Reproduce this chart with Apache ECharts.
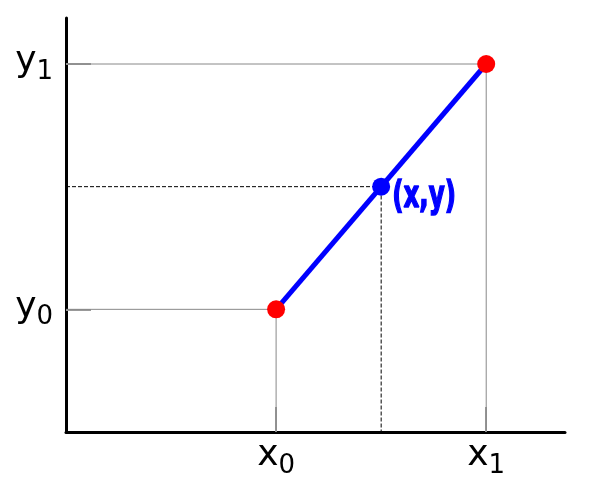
<!DOCTYPE html>
<html>
<head>
<meta charset="utf-8">
<script src="https://cdn.jsdelivr.net/npm/echarts@6/dist/echarts.min.js"></script>
<style>
  html, body { margin: 0; padding: 0; background: #fff; }
  #main { width: 600px; height: 480px; }
</style>
</head>
<body>
<div id="main"></div>
<script>
// known points and the interpolated one
var xTicks = [4, 8];
var xTickSubs = ['0', '1'];
var yTicks = [1, 3];
var yTickSubs = ['0', '1'];
var knownPoints = [[4, 1], [8, 3]];
var interpPoint = [6, 2];
var interpLabel = '(x,y)';

var chart = echarts.init(document.getElementById('main'));

function guide(p) {
  // from the y axis across to the point, then down to the x axis
  return [[0, p[1]], [p[0], p[1]], [p[0], 0]];
}

var richSub = {
  m: { fontSize: 36, fontFamily: 'DejaVu Sans', color: '#000', lineHeight: 40, verticalAlign: 'top' },
  s: { fontSize: 26, fontFamily: 'DejaVu Sans', color: '#000', lineHeight: 30, verticalAlign: 'top', padding: [15, 0, 0, 0] }
};

chart.setOption({
  animation: false,
  grid: { left: 66, right: 35, top: 18, bottom: 48 },
  xAxis: {
    type: 'value', min: 0, max: 9.5,
    splitLine: { show: false },
    axisLine: { lineStyle: { color: '#000', width: 3 } },
    axisTick: { show: true, inside: true, length: 25, customValues: xTicks, lineStyle: { color: '#999', width: 2 } },
    axisLabel: {
      customValues: xTicks, margin: 6,
      formatter: function (v) { return '{m|x}{s|' + xTickSubs[xTicks.indexOf(v)] + '}'; },
      rich: richSub
    }
  },
  yAxis: {
    type: 'value', min: 0, max: 3.375,
    splitLine: { show: false },
    axisLine: { show: true, lineStyle: { color: '#000', width: 3 } },
    axisTick: { show: true, inside: true, length: 25, customValues: yTicks, lineStyle: { color: '#999', width: 2 } },
    axisLabel: {
      customValues: yTicks, margin: 13,
      formatter: function (v) { return '{m|y}{s|' + yTickSubs[yTicks.indexOf(v)] + '}'; },
      rich: richSub
    }
  },
  series: [
    { type: 'line', data: guide(knownPoints[0]), symbol: 'none', lineStyle: { color: '#888', width: 1 }, z: 1 },
    { type: 'line', data: guide(knownPoints[1]), symbol: 'none', lineStyle: { color: '#888', width: 1 }, z: 1 },
    { type: 'line', data: guide(interpPoint), symbol: 'none', lineStyle: { color: '#000', width: 1, type: [4, 2] }, z: 1 },
    { type: 'line', data: knownPoints, symbol: 'none', lineStyle: { color: '#0000ff', width: 5 }, z: 2 },
    { type: 'scatter', data: knownPoints, symbolSize: 18, itemStyle: { color: '#ff0000', opacity: 1 }, z: 3 },
    { type: 'scatter', data: [interpPoint], symbolSize: 18, itemStyle: { color: '#0000ff', opacity: 1 }, z: 3 }
  ]
});

// the (x,y) label is squeezed sideways in the original, so draw it as a scaled text
var px = chart.convertToPixel({ gridIndex: 0 }, interpPoint);
chart.setOption({
  graphic: [{
    type: 'text', x: px[0] + 11, y: px[1] + 10, scaleX: 0.72,
    style: {
      text: interpLabel, fill: '#0000ff', stroke: '#0000ff', lineWidth: 1.5,
      font: 'bold 38px "DejaVu Sans Condensed", "DejaVu Sans"', verticalAlign: 'middle'
    }
  }]
});
</script>
</body>
</html>
